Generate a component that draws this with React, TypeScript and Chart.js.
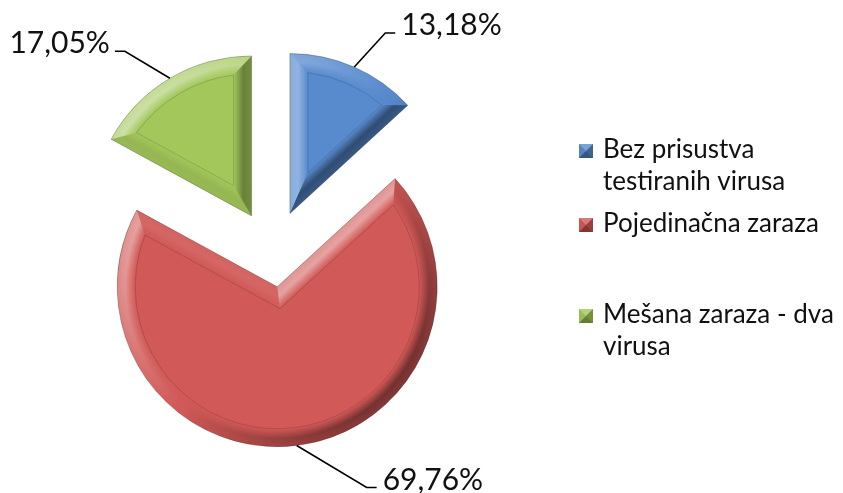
import React, { useEffect, useRef } from "react";
import { Chart, registerables, ArcElement } from "chart.js";

Chart.register(...registerables);

// ---- data ----
const categories: string[][] = [
  ["Bez prisustva", "testiranih virusa"],
  ["Pojedinačna zaraza"],
  ["Mešana zaraza - dva", "virusa"],
];
const values: number[] = [13.18, 69.76, 17.05];

// ---- style ----
const colors = ["#588BCE", "#D15957", "#A3C75B"];
const explode = [42, 35, 42];
// leader line: [dx, dy, horizontal run]
const leaders = [
  [31, -34, 10],
  [70, 42, 10],
  [-45, -27, -10],
];
const LABEL_FONT = "30px Lato, 'Open Sans', sans-serif";
const LEGEND_FONT = "26px Lato, 'Open Sans', sans-serif";
const LEGEND_ITEM_Y = [158, 232, 323];
const LEGEND_LINE_H = 32;
const BEVEL = 18;
const LX = -0.78,
  LY = -0.63;

function fmt(v: number) {
  return v.toFixed(2).replace(".", ",") + "%";
}

function apexOf(arc: any, i: number) {
  const m = (arc.startAngle + arc.endAngle) / 2;
  const e = explode[i] || 0;
  return { ax: arc.x + Math.cos(m) * e, ay: arc.y + Math.sin(m) * e, m };
}

function shadeCol(nx: number, ny: number, k: number) {
  const s = nx * LX + ny * LY;
  const a = Math.min(1, Math.abs(s) * k);
  return s >= 0 ? [255, 255, 255, a] : [0, 0, 0, a];
}
const rgba = (c: number[], a: number) =>
  `rgba(${c[0]},${c[1]},${c[2]},${Math.max(0, a).toFixed(3)})`;

const explodePlugin = {
  id: "explodeArcs",
  afterDatasetUpdate(chart: any, args: any) {
    args.meta.data.forEach((arc: any, i: number) => {
      if (arc.__exploded) return;
      arc.__exploded = true;
      arc.draw = function (ctx: CanvasRenderingContext2D) {
        const m = (this.startAngle + this.endAngle) / 2;
        const e = explode[i] || 0;
        ctx.save();
        ctx.translate(Math.cos(m) * e, Math.sin(m) * e);
        ArcElement.prototype.draw.call(this, ctx);
        ctx.restore();
      };
    });
  },
};

let bevelCanvas: HTMLCanvasElement | null = null;

const bevelPlugin = {
  id: "bevelArcs",
  afterDatasetsDraw(chart: any) {
    const ctx: CanvasRenderingContext2D = chart.ctx;
    const meta = chart.getDatasetMeta(0);
    const dpr = chart.currentDevicePixelRatio || 1;
    const W = chart.width,
      H = chart.height;
    if (!bevelCanvas) bevelCanvas = document.createElement("canvas");
    const oc = bevelCanvas;
    oc.width = Math.round(W * dpr);
    oc.height = Math.round(H * dpr);
    const o = oc.getContext("2d") as CanvasRenderingContext2D;

    meta.data.forEach((arc: any, i: number) => {
      const { ax, ay } = apexOf(arc, i);
      const s = arc.startAngle,
        e = arc.endAngle,
        r = arc.outerRadius,
        d = BEVEL;
      const ri = r - d;
      const del = Math.asin(d / ri);
      const h = (e - s) / 2;
      const m = (s + e) / 2;
      const dist = d / Math.sin(h);
      const ix = ax + Math.cos(m) * dist,
        iy = ay + Math.sin(m) * dist;

      o.setTransform(1, 0, 0, 1, 0, 0);
      o.globalCompositeOperation = "source-over";
      o.clearRect(0, 0, oc.width, oc.height);
      o.setTransform(dpr, 0, 0, dpr, 0, 0);

      // curved band, shaded by angle
      o.beginPath();
      o.arc(ax, ay, r, s, e);
      o.arc(ax, ay, ri, e - del, s + del, true);
      o.closePath();
      const cg = (o as any).createConicGradient(0, ax, ay);
      const N = 72;
      for (let k = 0; k <= N; k++) {
        const th = (k / N) * Math.PI * 2;
        const c = shadeCol(Math.cos(th), Math.sin(th), 0.45);
        cg.addColorStop(k / N, rgba(c, c[3]));
      }
      o.fillStyle = cg;
      o.fill();
      o.globalCompositeOperation = "destination-in";
      const rg = o.createRadialGradient(ax, ay, ri, ax, ay, r);
      rg.addColorStop(0, "rgba(0,0,0,0)");
      rg.addColorStop(0.55, "rgba(0,0,0,1)");
      rg.addColorStop(1, "rgba(0,0,0,0.8)");
      o.fillStyle = rg;
      o.fillRect(0, 0, W, H);
      o.globalCompositeOperation = "source-over";

      // straight bands (mitred)
      const edges = [
        { t: s, q: s + del, nOut: [Math.sin(s), -Math.cos(s)] },
        { t: e, q: e - del, nOut: [-Math.sin(e), Math.cos(e)] },
      ];
      edges.forEach(({ t, q, nOut }) => {
        const nx = -nOut[0],
          ny = -nOut[1];
        const c = shadeCol(nOut[0], nOut[1], 0.45);
        const g = o.createLinearGradient(ax, ay, ax + nx * d, ay + ny * d);
        g.addColorStop(0, rgba(c, c[3] * 0.8));
        g.addColorStop(0.45, rgba(c, c[3]));
        g.addColorStop(1, rgba(c, 0));
        o.fillStyle = g;
        o.beginPath();
        o.moveTo(ax, ay);
        o.lineTo(ax + Math.cos(t) * r, ay + Math.sin(t) * r);
        o.lineTo(ax + Math.cos(q) * ri, ay + Math.sin(q) * ri);
        o.lineTo(ix, iy);
        o.closePath();
        o.fill();
      });

      ctx.save();
      ctx.setTransform(1, 0, 0, 1, 0, 0);
      ctx.drawImage(oc, 0, 0);
      ctx.restore();

      // inner outline
      ctx.save();
      ctx.beginPath();
      ctx.moveTo(ix, iy);
      ctx.lineTo(ax + Math.cos(s + del) * ri, ay + Math.sin(s + del) * ri);
      ctx.arc(ax, ay, ri, s + del, e - del);
      ctx.closePath();
      ctx.lineWidth = 1;
      ctx.strokeStyle = "rgba(0,0,0,0.14)";
      ctx.stroke();

      // outer rim
      ctx.beginPath();
      ctx.moveTo(ax, ay);
      ctx.arc(ax, ay, r, s, e);
      ctx.closePath();
      ctx.lineWidth = 1;
      ctx.strokeStyle = "rgba(0,0,0,0.22)";
      ctx.stroke();
      ctx.restore();
    });
  },
};

const labelPlugin = {
  id: "pieLabels",
  afterDraw(chart: any) {
    const ctx: CanvasRenderingContext2D = chart.ctx;
    const meta = chart.getDatasetMeta(0);
    const data = chart.data.datasets[0].data as number[];
    meta.data.forEach((arc: any, i: number) => {
      const { ax, ay, m } = apexOf(arc, i);
      const r = arc.outerRadius;
      const sx = ax + Math.cos(m) * r;
      const sy = ay + Math.sin(m) * r;
      const [dx, dy, run] = leaders[i];
      const ex = sx + dx,
        ey = sy + dy;
      const fx = ex + run;
      ctx.save();
      ctx.strokeStyle = "#000";
      ctx.lineWidth = 1.6;
      ctx.beginPath();
      ctx.moveTo(sx, sy);
      ctx.lineTo(ex, ey);
      ctx.lineTo(fx, ey);
      ctx.stroke();
      ctx.font = LABEL_FONT;
      ctx.fillStyle = "#111";
      ctx.textBaseline = "alphabetic";
      ctx.textAlign = run >= 0 ? "left" : "right";
      ctx.fillText(fmt(data[i]), fx + (run >= 0 ? 6 : -5), ey + 2);
      ctx.restore();
    });
  },
};

const legendPlugin = {
  id: "customLegend",
  afterDraw(chart: any) {
    const ctx: CanvasRenderingContext2D = chart.ctx;
    const labels = chart.data.labels as string[][];
    const bg = chart.data.datasets[0].backgroundColor as string[];
    const x0 = chart.chartArea.right + 33;
    labels.forEach((lines, i) => {
      const by = LEGEND_ITEM_Y[i];
      const sz = 14;
      const mx = x0,
        my = by - sz;
      ctx.save();
      ctx.fillStyle = bg[i];
      ctx.fillRect(mx, my, sz, sz);
      const cx = mx + sz / 2,
        cy = my + sz / 2;
      const tris: [number, number, number, number, string][] = [
        [mx, my, mx + sz, my, "rgba(255,255,255,0.2)"],
        [mx + sz, my, mx + sz, my + sz, "rgba(0,0,0,0.28)"],
        [mx + sz, my + sz, mx, my + sz, "rgba(0,0,0,0.38)"],
        [mx, my + sz, mx, my, "rgba(0,0,0,0.05)"],
      ];
      tris.forEach(([x1, y1, x2, y2, c]) => {
        ctx.beginPath();
        ctx.moveTo(x1, y1);
        ctx.lineTo(x2, y2);
        ctx.lineTo(cx, cy);
        ctx.closePath();
        ctx.fillStyle = c;
        ctx.fill();
      });
      ctx.font = LEGEND_FONT;
      ctx.fillStyle = "#111";
      ctx.textBaseline = "alphabetic";
      ctx.textAlign = "left";
      lines.forEach((ln, j) => {
        ctx.fillText(ln, x0 + 24, by + j * LEGEND_LINE_H);
      });
      ctx.restore();
    });
  },
};

export default function App() {
  const ref = useRef<HTMLCanvasElement | null>(null);
  useEffect(() => {
    if (!ref.current) return;
    const chart = new Chart(ref.current, {
      type: "pie",
      data: {
        labels: categories as any,
        datasets: [
          {
            data: values,
            backgroundColor: colors,
            borderWidth: 0,
            radius: 160,
          } as any,
        ],
      },
      options: {
        animation: false,
        responsive: true,
        maintainAspectRatio: false,
        events: [],
        layout: { padding: { left: 0, right: 297, top: 11, bottom: 0 } },
        plugins: {
          legend: { display: false },
          tooltip: { enabled: false },
        },
      },
      plugins: [explodePlugin, bevelPlugin, labelPlugin, legendPlugin],
    });
    return () => chart.destroy();
  }, []);
  return (
    <div
      style={{
        position: "fixed",
        left: 0,
        top: 0,
        width: 843,
        height: 493,
        background: "#fff",
      }}
    >
      <canvas ref={ref} />
    </div>
  );
}
